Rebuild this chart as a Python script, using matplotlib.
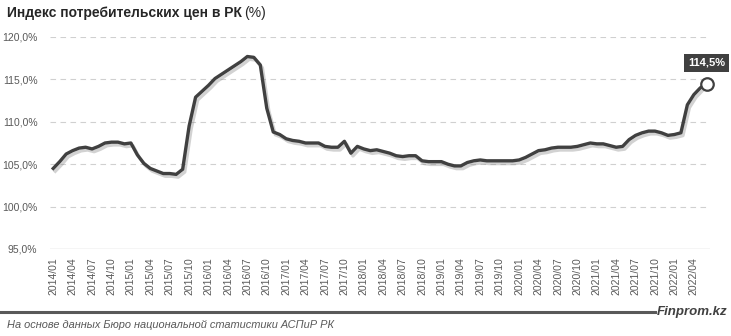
import matplotlib
matplotlib.use('Agg')
import matplotlib.pyplot as plt
import matplotlib.patheffects as pe
from matplotlib.lines import Line2D

# ИПЦ в РК, % к соответствующему месяцу прошлого года, 2014/01 - 2022/06
cpi = [104.5, 105.3, 106.2, 106.6, 106.9, 107.0, 106.8, 107.1, 107.5, 107.6, 107.6, 107.4,
       107.5, 106.1, 105.1, 104.5, 104.2, 103.9, 103.9, 103.8, 104.4, 109.5, 112.9, 113.6,
       114.3, 115.1, 115.6, 116.1, 116.6, 117.1, 117.7, 117.6, 116.7, 111.6, 108.8, 108.5,
       108.0, 107.8, 107.7, 107.5, 107.5, 107.5, 107.1, 107.0, 107.0, 107.7, 106.3, 107.1,
       106.8, 106.6, 106.7, 106.5, 106.3, 106.0, 105.9, 106.0, 106.0, 105.4, 105.3, 105.3,
       105.3, 105.0, 104.8, 104.8, 105.2, 105.4, 105.5, 105.4, 105.4, 105.4, 105.4, 105.4,
       105.5, 105.8, 106.2, 106.6, 106.7, 106.9, 107.0, 107.0, 107.0, 107.1, 107.3, 107.5,
       107.4, 107.4, 107.2, 107.0, 107.1, 107.9, 108.4, 108.7, 108.9, 108.9, 108.7, 108.4,
       108.5, 108.7, 112.0, 113.2, 114.0, 114.5]
months = [f"{2014 + i // 12}/{i % 12 + 1:02d}" for i in range(len(cpi))]
y_ticks = [95, 100, 105, 110, 115, 120]

title = "Индекс потребительских цен в РК"
source = "На основе данных Бюро национальной статистики АСПиР РК"

plt.rcParams['font.family'] = ['Liberation Sans', 'DejaVu Sans']

fig = plt.figure(figsize=(7.31, 3.36), dpi=100)
ax = fig.add_axes([50 / 731, 1 - 249 / 336, 660 / 731, 212 / 336])

x = list(range(len(cpi)))
ax.plot(x, cpi, color='#404040', linewidth=2.4, solid_joinstyle='round',
        path_effects=[pe.SimpleLineShadow(offset=(1.5, -2), shadow_color='#808080', alpha=0.35),
                      pe.Normal()], zorder=3)
ax.plot(x[-1], cpi[-1], 'o', markersize=9, markerfacecolor='white',
        markeredgecolor='#404040', markeredgewidth=1.6, zorder=4, clip_on=False)
ax.annotate(f"{cpi[-1]:.1f}%".replace('.', ','), (x[-1], cpi[-1]),
            xytext=(0, 15), textcoords='offset points', ha='center', va='center',
            color='white', fontsize=8, fontweight='bold',
            bbox=dict(boxstyle='square,pad=0.35', fc='#404040', ec='none'), zorder=5)

ax.set_xlim(-0.5, len(cpi) - 0.5)
ax.set_ylim(95, 120)
ax.set_yticks(y_ticks)
ax.set_yticklabels([f"{v:.1f}%".replace('.', ',') for v in y_ticks])
ax.set_xticks(x[::3])
ax.set_xticklabels(months[::3], rotation=90)
ax.tick_params(axis='both', length=0, labelsize=7.5, colors='#595959')
ax.tick_params(axis='x', pad=6)
ax.tick_params(axis='y', pad=9)

for v in y_ticks[1:]:
    ax.axhline(v, color='#d0d0d0', linewidth=0.8, linestyle=(0, (5, 4)), zorder=1)
ax.axhline(95, color='#d0d0d0', linewidth=1.0, zorder=1)
for s in ax.spines.values():
    s.set_visible(False)

fig.text(7 / 731, 1 - 13 / 336, title, fontsize=10, fontweight='bold', color='#262626',
         va='center', ha='left')
fig.text(244 / 731, 1 - 13 / 336, "(%)", fontsize=10, color='#262626', va='center', ha='left')

fig.add_artist(Line2D([0, 655 / 731], [1 - 312 / 336] * 2, color='#595959', linewidth=2.2))
fig.text(727 / 731, 1 - 312 / 336, "Finprom.kz", fontsize=9.5, fontweight='bold',
         fontstyle='italic', color='#404040', ha='right', va='center')
fig.text(7 / 731, 1 - 325 / 336, source, fontsize=7.9, fontstyle='italic', color='#595959',
         ha='left', va='center')

fig.savefig('out.png', dpi=100)
